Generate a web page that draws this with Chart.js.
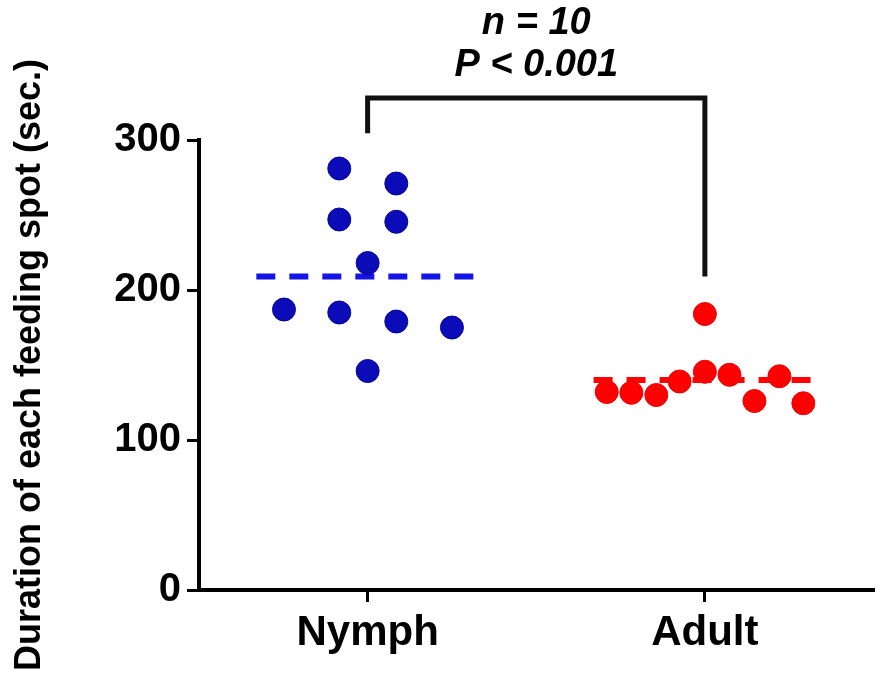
<!DOCTYPE html>
<html>
<head>
<meta charset="utf-8">
<script src="https://cdn.jsdelivr.net/npm/chart.js@4.4.1/dist/chart.umd.min.js"></script>
<style>
  html, body { margin: 0; padding: 0; background: #fff; }
</style>
</head>
<body>
<canvas id="myChart" width="886" height="679"></canvas>
<script>
// Groups on the x axis and ticks on the y axis
var groups = ["Nymph", "Adult"];
var yTicks = [0, 100, 200, 300];

// Values (sec.)
var nymph = [281, 271, 247, 245.5, 218, 187, 185, 179, 175, 146];
var adult = [184, 132, 131.5, 130, 139, 145.5, 143.5, 126, 142.5, 124.5];

// Horizontal scatter of each point around its group (group units)
var nymphJitter = [-0.084, 0.085, -0.084, 0.085, 0, -0.248, -0.084, 0.085, 0.25, 0];
var adultJitter = [0, -0.291, -0.218, -0.144, -0.075, 0, 0.073, 0.147, 0.221, 0.292];

// Dashed group lines
var means = [209, 140];

// Significance bracket: left foot, top, right foot
var bracket = [304.5, 328, 209];
var statText = ["n = 10", "P < 0.001"];

var FONT = '"Liberation Sans", Arial, Helvetica, sans-serif';
Chart.defaults.font.family = FONT;
Chart.defaults.color = '#000';

function pts(vals, jitter, g) {
  return vals.map(function (v, i) { return { x: g + jitter[i], y: v }; });
}
function meanLine(i) {
  var g = i + 1;
  return [{ x: g - 0.33, y: means[i] }, { x: g + 0.32, y: means[i] }];
}

var statLabel = {
  id: 'statLabel',
  afterDraw: function (chart) {
    var ctx = chart.ctx;
    var x = chart.scales.x.getPixelForValue(1.5);
    var top = chart.scales.y.getPixelForValue(bracket[1]);
    ctx.save();
    ctx.font = 'italic bold 38px ' + FONT;
    ctx.textAlign = 'center';
    ctx.textBaseline = 'alphabetic';
    ctx.fillStyle = '#000';
    ctx.fillText(statText[0], x, top - 64);
    ctx.fillText(statText[1], x, top - 22);
    ctx.restore();
  }
};

var ctx = document.getElementById("myChart");
var myChart = new Chart(ctx, {
  type: 'scatter',
  data: {
    datasets: [
      {
        data: pts(nymph, nymphJitter, 1),
        backgroundColor: '#0b0bb8',
        borderColor: '#06069a',
        borderWidth: 1,
        pointRadius: 11.5
      },
      {
        data: pts(adult, adultJitter, 2),
        backgroundColor: '#ff0000',
        borderColor: '#f00000',
        borderWidth: 1,
        pointRadius: 11.5
      },
      {
        type: 'line',
        data: meanLine(0),
        borderColor: '#1414e6',
        borderWidth: 6,
        borderDash: [19, 14],
        pointRadius: 0,
        fill: false
      },
      {
        type: 'line',
        data: meanLine(1),
        borderColor: '#ff0000',
        borderWidth: 6,
        borderDash: [19, 14],
        pointRadius: 0,
        fill: false
      },
      {
        type: 'line',
        data: [
          { x: 1, y: bracket[0] },
          { x: 1, y: bracket[1] },
          { x: 2, y: bracket[1] },
          { x: 2, y: bracket[2] }
        ],
        borderColor: '#111',
        borderWidth: 5,
        borderJoinStyle: 'miter',
        pointRadius: 0,
        fill: false,
        clip: false
      }
    ]
  },
  options: {
    responsive: false,
    animation: false,
    devicePixelRatio: 1,
    layout: { padding: { top: 140, right: 9, left: 0, bottom: 0 } },
    plugins: {
      legend: { display: false },
      tooltip: { enabled: false }
    },
    scales: {
      x: {
        type: 'linear',
        min: 0.5,
        max: 2.5,
        afterBuildTicks: function (s) {
          s.ticks = groups.map(function (g, i) { return { value: i + 1 }; });
        },
        afterFit: function (s) { s.height = 89; },
        ticks: {
          callback: function (v) { return groups[v - 1]; },
          font: { size: 42, weight: 'bold' },
          color: '#000',
          padding: 6,
          maxRotation: 0
        },
        grid: { drawOnChartArea: false, tickLength: 12, lineWidth: 3, color: '#000' },
        border: { display: true, width: 4, color: '#000' }
      },
      y: {
        min: 0,
        max: 300,
        afterBuildTicks: function (s) {
          s.ticks = yTicks.map(function (v) { return { value: v }; });
        },
        afterFit: function (s) { s.width = 199; },
        ticks: {
          font: { size: 40, weight: 'bold' },
          color: '#000',
          padding: 6
        },
        grid: { drawOnChartArea: false, tickLength: 12, lineWidth: 3, color: '#000' },
        border: { display: true, width: 4, color: '#000' },
        title: {
          display: true,
          text: 'Duration of each feeding spot (sec.)',
          font: { size: 36, weight: 'bold' },
          color: '#000',
          padding: { top: 8, bottom: 0 }
        }
      }
    }
  },
  plugins: [statLabel]
});
</script>
</body>
</html>
